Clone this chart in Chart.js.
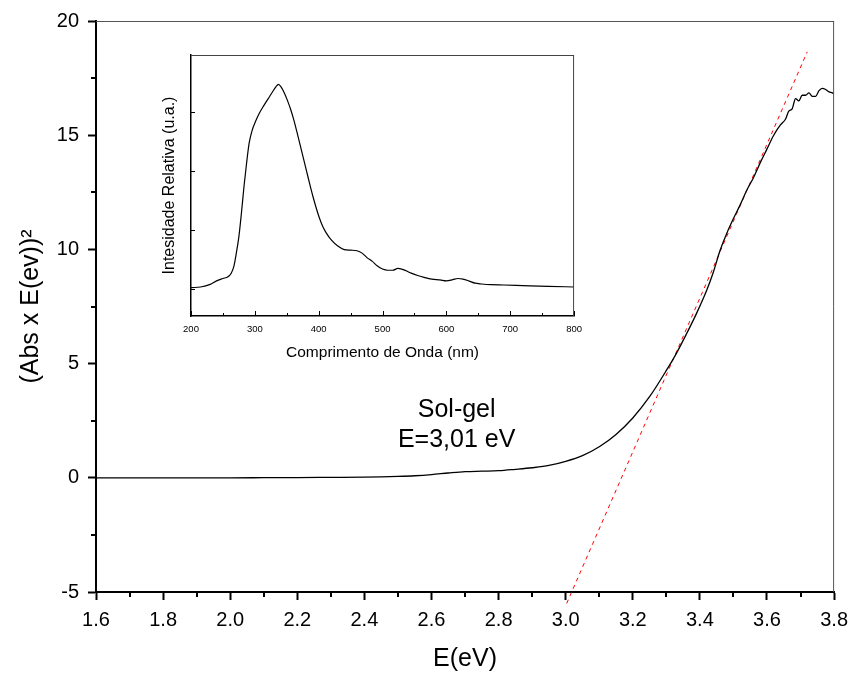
<!DOCTYPE html>
<html>
<head>
<meta charset="utf-8">
<script src="https://cdn.jsdelivr.net/npm/chart.js@4.4.1/dist/chart.umd.min.js"></script>
<style>
  html, body { margin: 0; padding: 0; background: #fff; }
  #wrap { position: relative; width: 856px; height: 675px; }
  #main { position: absolute; left: 0; top: 0; width: 856px; height: 675px; }
  #inset { position: absolute; left: 150px; top: 40px; width: 440px; height: 330px; }
</style>
</head>
<body>
<div id="wrap">
  <canvas id="main" width="856" height="675"></canvas>
  <canvas id="inset" width="440" height="330"></canvas>
</div>
<script>
// Tauc plot: (Abs x E)^2 versus photon energy
const energy = [1.6, 1.8, 2.0, 2.1, 2.2, 2.3, 2.4, 2.45, 2.5, 2.55, 2.6, 2.65, 2.7, 2.75, 2.8,
  2.85, 2.9, 2.95, 3.0, 3.05, 3.1, 3.15, 3.2, 3.25, 3.3, 3.33, 3.36, 3.39, 3.42, 3.44, 3.46,
  3.48, 3.5, 3.52, 3.54, 3.56, 3.58, 3.6, 3.62, 3.64, 3.655, 3.665, 3.675, 3.685, 3.695,
  3.705, 3.715, 3.725, 3.735, 3.745, 3.755, 3.765, 3.775, 3.785, 3.795, 3.8];
const absE2 = [0, 0, 0, 0.005, 0.01, 0.02, 0.03, 0.04, 0.06, 0.09, 0.14, 0.21, 0.27, 0.29, 0.31,
  0.37, 0.44, 0.54, 0.72, 0.97, 1.36, 1.9, 2.62, 3.55, 4.7, 5.45, 6.3, 7.2, 8.2, 9.0, 9.95,
  10.7, 11.35, 11.95, 12.6, 13.15, 13.8, 14.4, 15.0, 15.45, 15.7, 16.05, 16.15, 16.6, 16.5,
  16.75, 16.75, 16.85, 16.7, 16.7, 16.95, 17.05, 17.0, 16.9, 16.85, 16.8];

// Linear fit of the absorption edge (dashed red)
const fitEnergy = [3.003, 3.72];
const fitValue = [-5.5, 18.65];

// Axis ticks
const xMajorTicks = [1.6, 1.8, 2.0, 2.2, 2.4, 2.6, 2.8, 3.0, 3.2, 3.4, 3.6, 3.8];
const xMinorTicks = [1.7, 1.9, 2.1, 2.3, 2.5, 2.7, 2.9, 3.1, 3.3, 3.5, 3.7];
const yMajorTicks = [-5, 0, 5, 10, 15, 20];
const yMinorTicks = [-2.5, 2.5, 7.5, 12.5, 17.5];

// Sample label, anchored in data units
const noteLines = ['Sol-gel', 'E=3,01 eV'];
const noteX = 2.675;
const noteY = [2.98, 1.66];

// Inset: emission spectrum
const wavelength = [200, 215, 230, 240, 250, 258, 263, 267, 271, 275, 279, 283, 287, 291, 296,
  301, 307, 314, 321, 328, 333, 337, 341, 346, 351, 356, 361, 366, 371, 376, 381, 386, 391,
  396, 401, 406, 412, 420, 430, 440, 450, 460, 468, 476, 484, 492, 500, 508, 516, 524, 530,
  537, 545, 555, 565, 577, 590, 600, 610, 618, 626, 635, 645, 655, 670, 690, 720, 760, 800];
const intensity = [0.025, 0.036, 0.08, 0.14, 0.18, 0.21, 0.27, 0.38, 0.61, 0.89, 1.29, 1.74,
  2.13, 2.47, 2.70, 2.84, 2.98, 3.11, 3.23, 3.35, 3.43, 3.47, 3.43, 3.33, 3.20, 3.05, 2.87,
  2.66, 2.44, 2.22, 2.00, 1.78, 1.57, 1.38, 1.21, 1.07, 0.95, 0.83, 0.73, 0.67, 0.66, 0.65,
  0.61, 0.53, 0.47, 0.39, 0.34, 0.32, 0.32, 0.35, 0.34, 0.31, 0.27, 0.23, 0.20, 0.17, 0.155,
  0.14, 0.16, 0.18, 0.17, 0.14, 0.10, 0.087, 0.075, 0.07, 0.06, 0.047, 0.036];
const insetXMajor = [200, 300, 400, 500, 600, 700, 800];
const insetXMinor = [250, 350, 450, 550, 650, 750];
const insetYTicks = [0, 1, 2, 3];

const FONT = '"Liberation Sans", Arial, Helvetica, sans-serif';

const toPoints = (xs, ys) => xs.map((v, i) => ({ x: v, y: ys[i] }));

// Frame, minor ticks and the sample label on the main plot
const mainDecor = {
  id: 'mainDecor',
  afterDraw(chart) {
    const { ctx, chartArea: a, scales: { x, y } } = chart;
    ctx.save();
    ctx.strokeStyle = '#555';
    ctx.lineWidth = 1;
    ctx.beginPath();
    ctx.moveTo(a.left, a.top + 0.5);
    ctx.lineTo(a.right, a.top + 0.5);
    ctx.moveTo(a.right - 0.5, a.top);
    ctx.lineTo(a.right - 0.5, a.bottom);
    ctx.stroke();

    ctx.strokeStyle = '#000';
    ctx.lineWidth = 2;
    ctx.beginPath();
    xMinorTicks.forEach(v => {
      const p = Math.round(x.getPixelForValue(v));
      ctx.moveTo(p, a.bottom);
      ctx.lineTo(p, a.bottom + 5);
    });
    yMinorTicks.forEach(v => {
      const p = Math.round(y.getPixelForValue(v));
      ctx.moveTo(a.left, p);
      ctx.lineTo(a.left - 5, p);
    });
    ctx.stroke();

    ctx.fillStyle = '#000';
    ctx.font = '25px ' + FONT;
    ctx.textAlign = 'center';
    ctx.textBaseline = 'middle';
    noteLines.forEach((t, i) => {
      ctx.fillText(t, x.getPixelForValue(noteX), y.getPixelForValue(noteY[i]));
    });
    ctx.restore();
  }
};

new Chart(document.getElementById('main'), {
  type: 'line',
  data: {
    datasets: [
      {
        data: toPoints(energy, absE2),
        borderColor: '#000',
        borderWidth: 1.3,
        pointRadius: 0,
        cubicInterpolationMode: 'monotone',
        fill: false
      },
      {
        data: toPoints(fitEnergy, fitValue),
        borderColor: '#ff0000',
        borderWidth: 1,
        borderDash: [4, 4],
        pointRadius: 0,
        clip: false,
        fill: false
      }
    ]
  },
  options: {
    responsive: false,
    animation: false,
    devicePixelRatio: 1,
    layout: { padding: { top: 21, right: 19, left: 0, bottom: 0 } },
    plugins: { legend: { display: false }, tooltip: { enabled: false } },
    scales: {
      x: {
        type: 'linear',
        min: 1.6,
        max: 3.8,
        afterFit(s) { s.height = 83; },
        afterBuildTicks(s) { s.ticks = xMajorTicks.map(v => ({ value: v })); },
        ticks: {
          callback: v => v.toFixed(1),
          font: { family: FONT, size: 20 },
          color: '#000',
          padding: 8,
          maxRotation: 0,
          autoSkip: false
        },
        grid: { drawOnChartArea: false, drawTicks: true, tickLength: 8, tickWidth: 2, tickColor: '#000' },
        border: { display: true, width: 2, color: '#000' },
        title: {
          display: true,
          text: 'E(eV)',
          font: { family: FONT, size: 25 },
          color: '#000',
          padding: { top: 0, bottom: 1 }
        }
      },
      y: {
        type: 'linear',
        min: -5,
        max: 20,
        afterFit(s) { s.width = 96; },
        afterBuildTicks(s) { s.ticks = yMajorTicks.map(v => ({ value: v })); },
        ticks: {
          font: { family: FONT, size: 20 },
          color: '#000',
          padding: 9
        },
        grid: { drawOnChartArea: false, drawTicks: true, tickLength: 8, tickWidth: 2, tickColor: '#000' },
        border: { display: true, width: 2, color: '#000' },
        title: {
          display: true,
          text: '(Abs x E(ev))²',
          font: { family: FONT, size: 25 },
          color: '#000',
          padding: { top: 16, bottom: 0 }
        }
      }
    }
  },
  plugins: [mainDecor]
});

// Inward ticks and thin frame of the inset
const insetDecor = {
  id: 'insetDecor',
  afterDraw(chart) {
    const { ctx, chartArea: a, scales: { x, y } } = chart;
    ctx.save();
    ctx.strokeStyle = '#444';
    ctx.lineWidth = 1;
    ctx.beginPath();
    ctx.moveTo(a.left, a.top + 0.5);
    ctx.lineTo(a.right, a.top + 0.5);
    ctx.moveTo(a.right - 0.5, a.top);
    ctx.lineTo(a.right - 0.5, a.bottom);
    ctx.stroke();

    ctx.strokeStyle = '#000';
    ctx.lineWidth = 1;
    ctx.beginPath();
    insetXMajor.forEach(v => {
      const p = Math.round(x.getPixelForValue(v)) + 0.5;
      ctx.moveTo(p, a.bottom);
      ctx.lineTo(p, a.bottom - 5);
    });
    insetXMinor.forEach(v => {
      const p = Math.round(x.getPixelForValue(v)) + 0.5;
      ctx.moveTo(p, a.bottom);
      ctx.lineTo(p, a.bottom - 3);
    });
    insetYTicks.forEach(v => {
      const p = Math.round(y.getPixelForValue(v)) + 0.5;
      ctx.moveTo(a.left, p);
      ctx.lineTo(a.left + 4, p);
    });
    ctx.stroke();
    ctx.restore();
  }
};

new Chart(document.getElementById('inset'), {
  type: 'line',
  data: {
    datasets: [{
      data: toPoints(wavelength, intensity),
      borderColor: '#000',
      borderWidth: 1.2,
      pointRadius: 0,
      cubicInterpolationMode: 'monotone',
      fill: false
    }]
  },
  options: {
    responsive: false,
    animation: false,
    devicePixelRatio: 1,
    layout: { padding: { top: 15, right: 10, left: 0, bottom: 0 } },
    plugins: { legend: { display: false }, tooltip: { enabled: false } },
    scales: {
      x: {
        type: 'linear',
        min: 200,
        max: 800,
        afterFit(s) { s.height = 54; },
        afterBuildTicks(s) { s.ticks = insetXMajor.map(v => ({ value: v })); },
        ticks: {
          font: { family: FONT, size: 9.5 },
          color: '#000',
          padding: 8,
          maxRotation: 0,
          autoSkip: false
        },
        grid: { drawOnChartArea: false, drawTicks: false },
        border: { display: true, width: 1.5, color: '#000' },
        title: {
          display: true,
          text: 'Comprimento de Onda (nm)',
          font: { family: FONT, size: 15.5 },
          color: '#000',
          padding: { top: 0, bottom: 7.7 }
        }
      },
      y: {
        type: 'linear',
        min: -0.456,
        max: 3.969,
        afterFit(s) { s.width = 41; },
        ticks: { display: false },
        grid: { drawOnChartArea: false, drawTicks: false },
        border: { display: true, width: 1.5, color: '#000' },
        title: {
          display: true,
          text: 'Intesidade Relativa (u.a.)',
          font: { family: FONT, size: 16 },
          color: '#000',
          padding: { top: 10.4, bottom: 0 }
        }
      }
    }
  },
  plugins: [insetDecor]
});
</script>
</body>
</html>
